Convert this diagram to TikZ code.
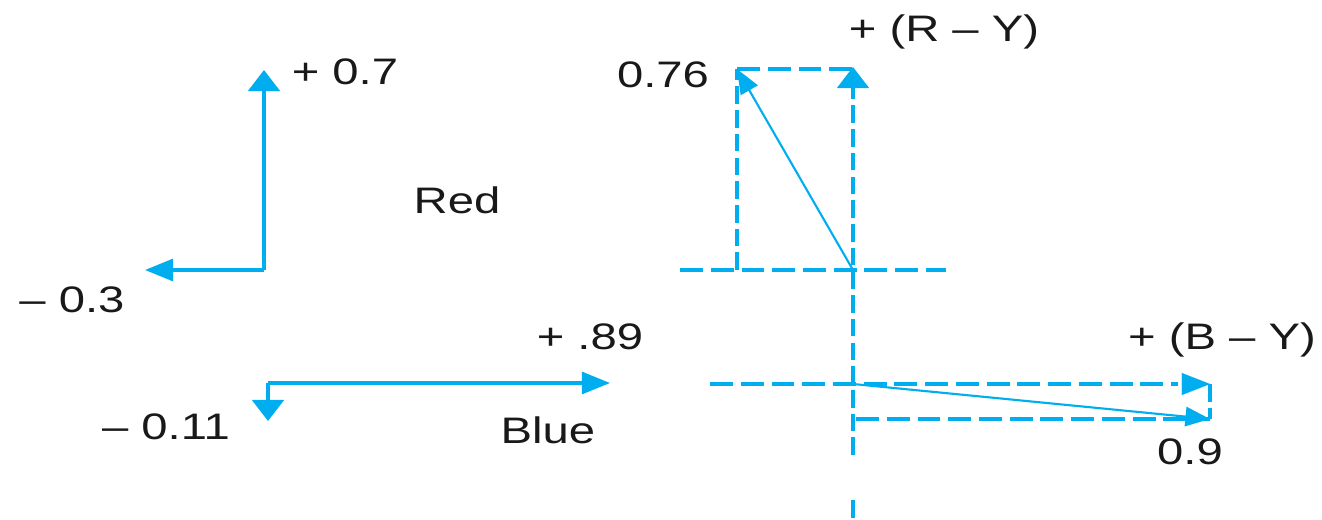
\documentclass[tikz,border=0pt]{standalone}
\usepackage{fontspec}
\setmainfont{Liberation Sans}
\usetikzlibrary{arrows.meta}
\definecolor{cy}{HTML}{00AEEF}
\newcommand{\wtxt}[1]{\scalebox{1.28}[1]{#1}}
\begin{document}
\begin{tikzpicture}[x=0.02cm,y=-0.02cm,
  lbl/.style={inner sep=0pt,font=\fontsize{21}{25}\selectfont,text=black!90},
  axis/.style={draw=cy,line width=1.8pt},
  harr/.style={-{Triangle[length=16pt,width=12.5pt]}},
  varr/.style={-{Triangle[length=12pt,width=18pt]}},
  darr/.style={-{Triangle[length=14pt,width=11pt]}},
  thin/.style={draw=cy,line width=1.2pt},
  hdash/.style={draw=cy,line width=2pt,dash pattern=on 13pt off 4.5pt},
  vdash/.style={draw=cy,line width=1.9pt,dash pattern=on 10pt off 3.5pt}]
\useasboundingbox (0,0) rectangle (1322,520);
% labels
\node[lbl] (p07) at (345,72) {\wtxt{+ 0.7}};
\node[lbl] (m03) at (72,300) {\wtxt{– 0.3}};
\node[lbl] (red) at (457,200) {\wtxt{Red}};
\node[lbl] (p89) at (590,337) {\wtxt{+ .89}};
\node[lbl] (m011) at (166,427) {\wtxt{– 0.11}};
\node[lbl] (blue) at (548,430) {\wtxt{Blue}};
\node[lbl] (v076) at (663,75) {\wtxt{0.76}};
\node[lbl] (ry) at (944,32) {\wtxt{+ (R – Y)}};
\node[lbl] (by) at (1222,340) {\wtxt{+ (B – Y)}};
\node[lbl] (v09) at (1190,452) {\wtxt{0.9}};
% left: red axes
\coordinate (RO) at (264,270);
\coordinate (RU) at (264,70);
\coordinate (RL) at (145,270);
\draw[axis,varr] (RO) -- (RU);
\draw[axis,harr] (RO) -- (RL);
% left: blue axes
\coordinate (BO) at (268,383);
\coordinate (BR) at (610,383);
\coordinate (BD) at (268,421);
\draw[axis,harr] (BO) -- (BR);
\draw[axis,varr] (BO) -- (BD);
% right: red vector
\coordinate (O1) at (853,270);
\coordinate (VT) at (853,67);
\coordinate (VB) at (853,455);
\coordinate (VB2) at (853,500);
\coordinate (VB3) at (853,520);
\coordinate (RT) at (737,69);
\coordinate (RB) at (737,270);
\coordinate (HL) at (680,270);
\coordinate (HR) at (946,270);
\draw[vdash] (VB) -- (853,90);
\draw[axis,varr] (853,92) -- (VT);
\draw[vdash] (VB2) -- (VB3);
\draw[hdash] (HL) -- (HR);
\draw[vdash] (RB) -- (RT);
\draw[hdash] (RT) -- (853,69);
\draw[thin,darr] (O1) -- (RT);
% right: blue vector
\coordinate (O2) at (853,384);
\coordinate (BL) at (710,384);
\coordinate (BT) at (1210,384);
\coordinate (BB) at (1210,419);
\coordinate (BBL) at (856,419);
\draw[hdash] (BL) -- (1178,384);
\draw[axis,harr,line width=0.1pt] (1182,384) -- (BT);
\draw[vdash] (BT) -- (BB);
\draw[hdash] (BBL) -- (BB);
\draw[thin,darr] (O2) -- (BB);
\end{tikzpicture}
\end{document}
